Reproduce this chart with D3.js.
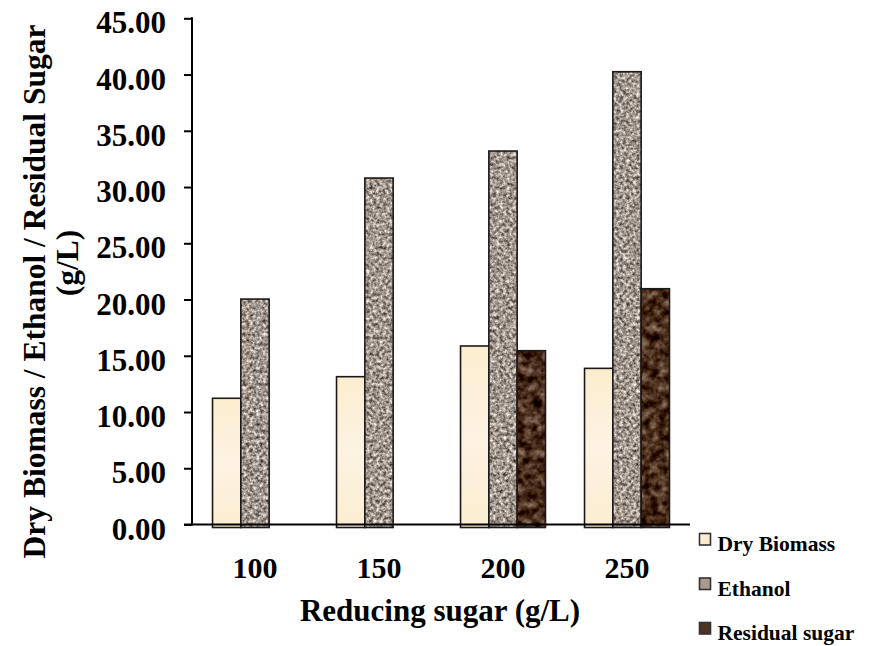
<!DOCTYPE html>
<html>
<head>
<meta charset="utf-8">
<script src="https://cdn.jsdelivr.net/npm/d3@7"></script>
<style>
  html, body { margin: 0; padding: 0; background: #fff; }
  svg { display: block; }
  text { font-family: "Liberation Serif", "Times New Roman", serif; font-weight: bold; fill: #000; }
</style>
</head>
<body>
<svg id="chart" width="875" height="646"></svg>
<script>
// ---- data ----
const categories = ["100", "150", "200", "250"];
const seriesNames = ["Dry Biomass", "Ethanol", "Residual sugar"];
const dryBiomass = [11.22, 13.14, 15.87, 13.88];
const ethanol = [20.04, 30.8, 33.2, 40.25];
const residualSugar = [0, 0, 15.45, 20.96];
const yTicks = [0, 5, 10, 15, 20, 25, 30, 35, 40, 45];
const xTitle = "Reducing sugar (g/L)";
const yTitleLine1 = "Dry Biomass / Ethanol / Residual Sugar";
const yTitleLine2 = "(g/L)";

const seriesValues = [dryBiomass, ethanol, residualSugar];
const fills = ["url(#gradDry)", "#b3a79d", "#4a2e1e"];
const filters = [null, "url(#texEth)", "url(#texRes)"];

const svg = d3.select("#chart");
const defs = svg.append("defs");

// cream gradient for dry biomass
const g1 = defs.append("linearGradient").attr("id", "gradDry")
  .attr("x1", 0).attr("y1", 0).attr("x2", 0).attr("y2", 1);
g1.append("stop").attr("offset", "0%").attr("stop-color", "#fcedcf");
g1.append("stop").attr("offset", "50%").attr("stop-color", "#fdf3e3");
g1.append("stop").attr("offset", "100%").attr("stop-color", "#fcedd0");

const g2 = defs.append("linearGradient").attr("id", "gradDryL")
  .attr("x1", 0).attr("y1", 0).attr("x2", 1).attr("y2", 1);
g2.append("stop").attr("offset", "0%").attr("stop-color", "#fdf5e6");
g2.append("stop").attr("offset", "100%").attr("stop-color", "#f8e4bd");

function texture(id, freq, a, means, seed) {
  const f = defs.append("filter").attr("id", id)
    .attr("x", 0).attr("y", 0).attr("width", 1).attr("height", 1)
    .attr("color-interpolation-filters", "sRGB");
  f.append("feTurbulence").attr("type", "fractalNoise")
    .attr("baseFrequency", freq).attr("numOctaves", 3).attr("seed", seed).attr("result", "n");
  const o = means.map(m => (m - a * 0.5).toFixed(3));
  f.append("feColorMatrix").attr("in", "n").attr("type", "matrix")
    .attr("values", `${a} 0 0 0 ${o[0]}  ${a} 0 0 0 ${o[1]}  ${a} 0 0 0 ${o[2]}  0 0 0 0 1`)
    .attr("result", "c");
  f.append("feComposite").attr("in", "c").attr("in2", "SourceGraphic").attr("operator", "in");
}
texture("texEth", 0.3, 1.15, [0.63, 0.59, 0.555], 7);
texture("texRes", 0.12, 0.8, [0.29, 0.18, 0.11], 11);

// ---- scales ----
const x = d3.scaleBand().domain(categories).range([193, 689])
  .paddingInner(0.315).paddingOuter(0.1575);
const x1 = d3.scaleBand().domain(seriesNames).range([0, x.bandwidth()]).padding(0);
const y = d3.scaleLinear().domain([0, 45]).range([524.5, 18.3]);

// ---- bars ----
const barData = [];
categories.forEach((c, i) => {
  seriesNames.forEach((s, j) => {
    barData.push({ cat: c, series: s, j: j, v: seriesValues[j][i] });
  });
});
const bars = svg.append("g").selectAll("g.bar")
  .data(barData.filter(d => d.v > 0))
  .join("g").attr("class", "bar");
bars.append("rect")
  .attr("x", d => x(d.cat) + x1(d.series))
  .attr("y", d => y(d.v))
  .attr("width", x1.bandwidth())
  .attr("height", d => y(0) - y(d.v) + 3)
  .attr("fill", d => fills[d.j])
  .attr("filter", d => filters[d.j]);
bars.append("rect")
  .attr("x", d => x(d.cat) + x1(d.series))
  .attr("y", d => y(d.v))
  .attr("width", x1.bandwidth())
  .attr("height", d => y(0) - y(d.v) + 3)
  .attr("fill", "none")
  .attr("stroke", "#1c1a18")
  .attr("stroke-width", 1.6);

// ---- axes ----
const yAxis = d3.axisLeft(y).tickValues(yTicks).tickSize(8).tickPadding(18)
  .tickFormat(d3.format(".2f"));
const gy = svg.append("g").attr("transform", "translate(192,0)").call(yAxis);
gy.select(".domain").remove();
gy.selectAll(".tick line").attr("stroke", "#000").attr("stroke-width", 2);
gy.selectAll(".tick text").attr("font-size", 31).attr("dy", "0.47em")
  .style("font-family", "'Liberation Serif', 'Times New Roman', serif").style("font-weight", "bold");
svg.append("line").attr("x1", 192).attr("x2", 192).attr("y1", y(45) - 1).attr("y2", y(0) + 1)
  .attr("stroke", "#000").attr("stroke-width", 2);

const xAxis = d3.axisBottom(x).tickSize(0).tickPadding(0);
const gx = svg.append("g").attr("transform", `translate(0,${y(0)})`).call(xAxis);
gx.select(".domain").remove();
gx.selectAll(".tick text").attr("font-size", 30).attr("y", 53.8).attr("dy", 0)
  .style("font-family", "'Liberation Serif', 'Times New Roman', serif").style("font-weight", "bold");
svg.append("line").attr("x1", 184).attr("x2", 690).attr("y1", y(0)).attr("y2", y(0))
  .attr("stroke", "#000").attr("stroke-width", 2);

// ---- titles ----
svg.append("text").attr("x", 440).attr("y", 621).attr("text-anchor", "middle")
  .attr("font-size", 31).text(xTitle);
svg.append("text").attr("transform", "translate(45,291.5) rotate(-90)")
  .attr("text-anchor", "middle").attr("font-size", 31.5).text(yTitleLine1);
svg.append("text").attr("transform", "translate(78,263) rotate(-90)")
  .attr("text-anchor", "middle").attr("font-size", 31.5).text(yTitleLine2);

// ---- legend ----
const legendFills = ["url(#gradDryL)", "#a89a8f", "#4e3323"];
const lg = svg.append("g").selectAll("g").data(seriesNames).join("g")
  .attr("transform", (d, i) => `translate(699.5,${551 + i * 44.5})`);
lg.append("rect").attr("x", 0).attr("y", -17.5).attr("width", 11).attr("height", 11.5)
  .attr("fill", (d, i) => legendFills[i]).attr("stroke", "#333").attr("stroke-width", 1.6);
lg.append("text").attr("x", 18).attr("y", 0).attr("font-size", 21.5).text(d => d);
</script>
</body>
</html>
